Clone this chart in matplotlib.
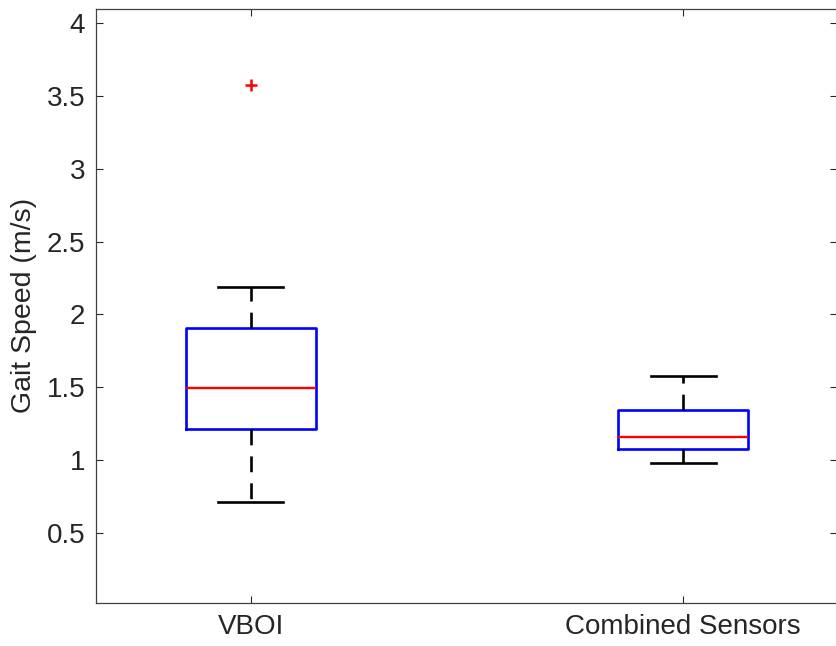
import matplotlib
matplotlib.use("Agg")
import matplotlib.pyplot as plt

plt.rcParams["font.family"] = ["Liberation Sans", "DejaVu Sans"]

# DATA
groups     = ["VBOI", "Combined Sensors"]
whisk_lo   = [0.714, 0.978]
q1         = [1.213, 1.078]
medians    = [1.493, 1.156]
q3         = [1.909, 1.342]
whisk_hi   = [2.190, 1.579]
outliers   = [[3.577], []]

stats = []
for i, name in enumerate(groups):
    stats.append(dict(label=name, whislo=whisk_lo[i], q1=q1[i], med=medians[i],
                      q3=q3[i], whishi=whisk_hi[i], fliers=outliers[i]))

fig = plt.figure(figsize=(8.37, 6.46), dpi=100)
ax = fig.add_axes([96.3 / 837, 43.3 / 646, (837.5 - 96.3) / 837, (602.7 - 9) / 646])

# MATLAB-style boxplot look: blue box, red median, dashed black whiskers
ax.bxp(stats, positions=[1, 2], widths=0.3, showfliers=True,
       boxprops=dict(color="#0000ff", linewidth=1.9),
       medianprops=dict(color="#ff0000", linewidth=1.7),
       whiskerprops=dict(color="black", linewidth=1.9, linestyle=(0, (6.0, 4.2))),
       capprops=dict(color="black", linewidth=1.9),
       flierprops=dict(marker="+", markeredgecolor="#ff0000", markersize=9,
                       markeredgewidth=1.8, linestyle="none"))

ax.set_xlim(0.6426, 2.357)
ax.set_ylim(0.021, 4.096)
ax.set_yticks([0.5, 1, 1.5, 2, 2.5, 3, 3.5, 4])
ax.set_yticklabels(["0.5", "1", "1.5", "2", "2.5", "3", "3.5", "4"])
ax.set_xticks([1, 2])
ax.set_xticklabels(groups)

ax.tick_params(direction="in", top=True, right=True, length=5, width=0.8,
               colors="0.15", labelsize=20)
ax.tick_params(axis="y", pad=8)
ax.tick_params(axis="x", pad=8)
for s in ax.spines.values():
    s.set_color("0.25")
    s.set_linewidth(0.9)

ax.set_ylabel("Gait Speed (m/s)", fontsize=20.5, color="0.15")
ax.yaxis.set_label_coords(-0.08, 0.5)

fig.savefig("out.png", dpi=100)
